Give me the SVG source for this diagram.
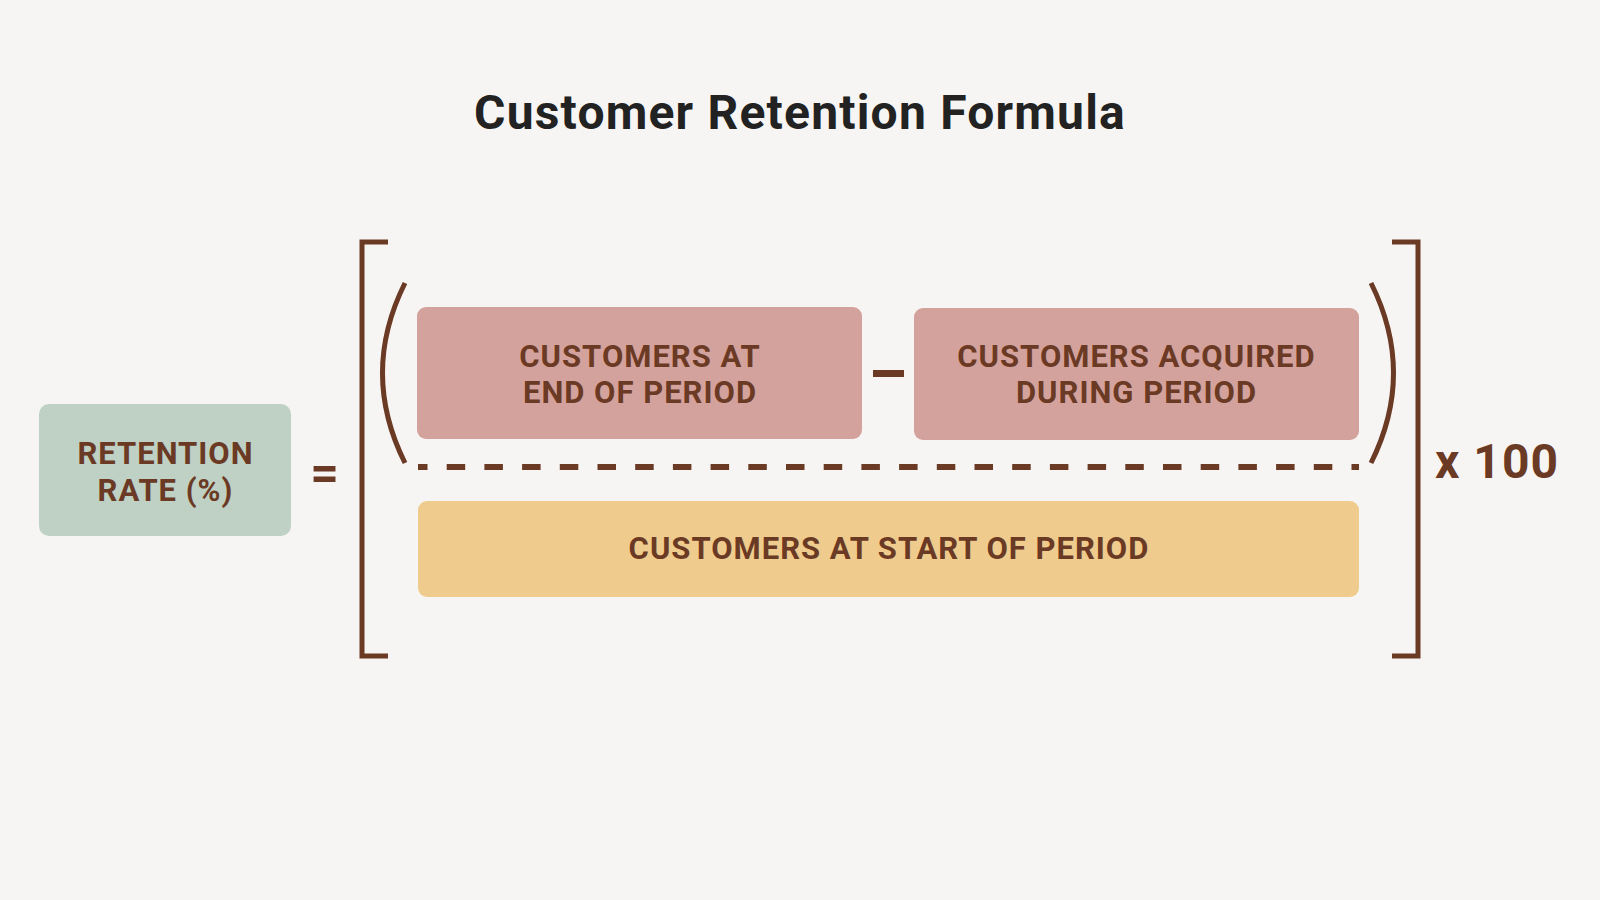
<svg xmlns="http://www.w3.org/2000/svg" width="1600" height="900" viewBox="0 0 1600 900">
<style>
.bg{fill:#F7F5F3}
.lbl{font-family:Roboto,"Liberation Sans",sans-serif;font-weight:bold;font-size:31px;letter-spacing:1px;fill:#6B3A24;text-anchor:middle}
.title{font-family:Roboto,"Liberation Sans",sans-serif;font-weight:bold;font-size:48px;letter-spacing:1.2px;fill:#222222;text-anchor:middle}
.op{font-family:Roboto,"Liberation Sans",sans-serif;font-weight:bold;fill:#6B3A24}
.ln{fill:none;stroke:#6B3A24;stroke-width:5}
</style>
<rect class="bg" x="0" y="0" width="1600" height="900"/>
<text class="title" x="800" y="129">Customer Retention Formula</text>

<g id="retention-rate">
<rect x="39" y="404" width="252" height="132" rx="10" fill="#BED1C4"/>
<text class="lbl" x="165.5" y="464">RETENTION</text>
<text class="lbl" x="165.5" y="501">RATE (%)</text>
</g>

<g id="equals">
<text class="op" x="324.5" y="490" font-size="50" text-anchor="middle">=</text>
</g>

<g id="customers-end">
<rect x="417" y="307" width="445" height="132" rx="9" fill="#D4A29C"/>
<text class="lbl" x="640" y="367">CUSTOMERS AT</text>
<text class="lbl" x="640" y="403">END OF PERIOD</text>
</g>

<g id="customers-acquired">
<rect x="914" y="308" width="445" height="132" rx="9" fill="#D4A29C"/>
<text class="lbl" x="1136.5" y="367">CUSTOMERS ACQUIRED</text>
<text class="lbl" x="1136.5" y="403">DURING PERIOD</text>
</g>

<g id="customers-start">
<rect x="418" y="501" width="941" height="96" rx="9" fill="#EFCC8D"/>
<text class="lbl" x="889" y="559">CUSTOMERS AT START OF PERIOD</text>
</g>

<g id="times-100">
<text class="op" x="1435" y="478" font-size="48" letter-spacing="1">x 100</text>
</g>

<g id="connectors">
<path class="ln" d="M388 242 H362 V656 H388"/>
<path class="ln" d="M1392 242 H1418 V656 H1392"/>
<path class="ln" d="M405 283 Q360 373 405 463"/>
<path class="ln" d="M1371 283 Q1416 373 1371 463"/>
<line x1="873" y1="373.5" x2="904" y2="373.5" stroke="#6B3A24" stroke-width="7"/>
<line x1="418" y1="467" x2="1359" y2="467" stroke="#6B3A24" stroke-width="6" stroke-dasharray="18.5 19.2" stroke-dashoffset="9"/>
</g>
</svg>
